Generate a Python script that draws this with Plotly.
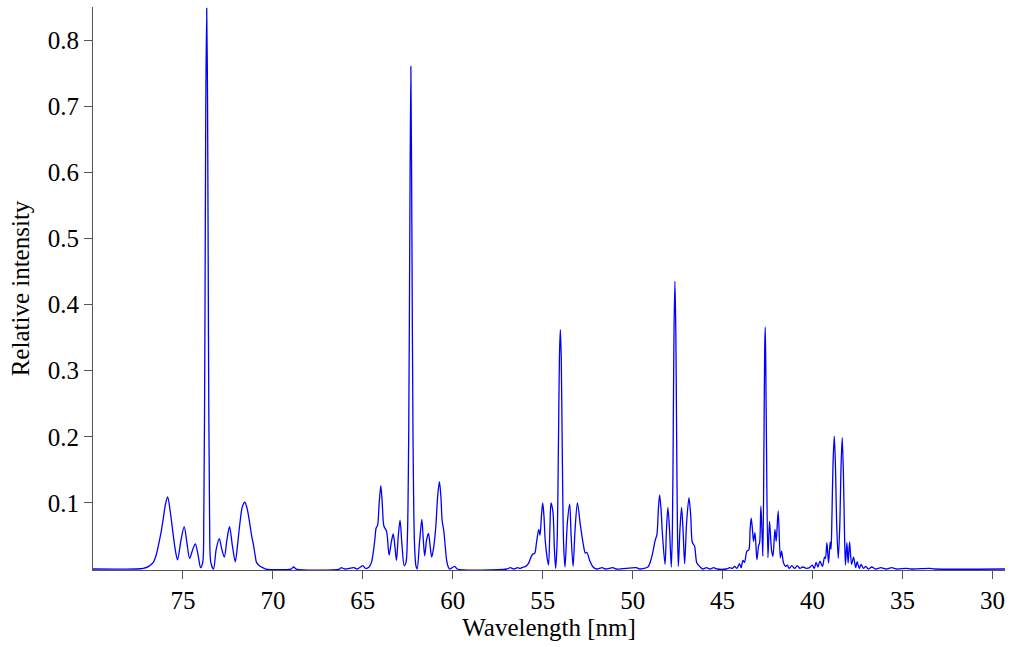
import plotly.graph_objects as go

# wavelength [nm] / relative intensity, group by group
wl_1 = [80.0, 77.6, 77.2, 76.9, 76.65, 76.5, 76.37, 76.22, 76.09, 75.97, 75.85, 75.72, 75.57, 75.42, 75.3,
        75.1, 74.93, 74.78, 74.63, 74.45, 74.31, 74.15, 74.02, 73.9, 73.84, 73.78, 73.73, 73.68, 73.63, 73.58,
        73.52, 73.45, 73.3, 73.15, 72.98, 72.84, 72.7, 72.55, 72.41, 72.25, 72.09, 71.95, 71.83, 71.7, 71.56,
        71.42, 71.28, 71.18, 71.09, 70.98, 70.91, 70.75, 70.63, 70.4]
in_1 = [0.0, 0.0, 0.001, 0.004, 0.01, 0.02, 0.035, 0.055, 0.077, 0.098, 0.109, 0.09, 0.058, 0.028, 0.014,
        0.045, 0.064, 0.04, 0.016, 0.03, 0.038, 0.02, 0.002, 0.01, 0.08, 0.35, 0.7, 0.848, 0.7, 0.35,
        0.08, 0.01, 0.0, 0.03, 0.046, 0.03, 0.018, 0.045, 0.064, 0.035, 0.011, 0.04, 0.07, 0.094, 0.101,
        0.09, 0.068, 0.05, 0.038, 0.02, 0.01, 0.005, 0.003, 0.0]

wl_2 = [69.0, 68.85, 68.7, 66.3, 66.2, 66.0, 65.5, 65.3, 65.0, 64.85, 64.65, 64.52, 64.42, 64.33, 64.26,
        64.18, 64.09, 64.0, 63.92, 63.83, 63.68, 63.54, 63.42, 63.31, 63.22, 63.13, 63.03, 62.93, 62.82, 62.7,
        62.6, 62.52, 62.45, 62.39, 62.33, 62.27, 62.21, 62.13, 62.05, 61.98, 61.85, 61.72, 61.64, 61.56, 61.45,
        61.35, 61.26, 61.17, 61.05, 60.94, 60.84, 60.74, 60.66, 60.59, 60.5, 60.42, 60.35, 60.25, 60.17, 59.89,
        59.75]
in_2 = [0.0, 0.003, 0.0, 0.0, 0.002, 0.0, 0.002, 0.0, 0.005, 0.001, 0.003, 0.01, 0.025, 0.045, 0.062,
        0.066, 0.1, 0.126, 0.1, 0.065, 0.057, 0.021, 0.04, 0.053, 0.035, 0.013, 0.05, 0.074, 0.035, 0.005,
        0.01, 0.05, 0.2, 0.5, 0.76, 0.5, 0.2, 0.04, 0.005, 0.0, 0.04, 0.075, 0.045, 0.02, 0.045,
        0.054, 0.035, 0.018, 0.035, 0.065, 0.11, 0.132, 0.11, 0.073, 0.058, 0.035, 0.015, 0.003, 0.0, 0.004,
        0.0]

wl_3 = [57.0, 56.8, 56.6, 56.4, 56.25, 56.09, 55.95, 55.8, 55.65, 55.57, 55.44, 55.35, 55.22, 55.15, 55.07,
        55.0, 54.93, 54.85, 54.68, 54.6, 54.54, 54.43, 54.35, 54.28, 54.2, 54.12, 54.07, 54.02, 53.97, 53.92,
        53.84, 53.76, 53.63, 53.5, 53.42, 53.31, 53.2, 53.07, 52.9, 52.76, 52.63, 52.54, 52.39, 52.2, 52.0,
        51.7, 51.5, 51.1, 50.9]
in_3 = [0.0, 0.002, 0.0, 0.002, 0.001, 0.003, 0.004, 0.008, 0.018, 0.022, 0.024, 0.039, 0.06, 0.051, 0.08,
        0.1, 0.08, 0.04, 0.006, 0.06, 0.1, 0.086, 0.03, 0.001, 0.04, 0.2, 0.32, 0.362, 0.32, 0.2,
        0.04, 0.003, 0.07, 0.098, 0.05, 0.004, 0.06, 0.1, 0.065, 0.04, 0.024, 0.025, 0.013, 0.003, 0.0,
        0.002, 0.0, 0.002, 0.0]

wl_4 = [49.8, 49.6, 49.15, 49.03, 48.93, 48.74, 48.65, 48.57, 48.5, 48.42, 48.35, 48.2, 48.12, 48.04, 47.95,
        47.85, 47.79, 47.74, 47.7, 47.65, 47.6, 47.56, 47.51, 47.46, 47.37, 47.28, 47.2, 47.11, 47.0, 46.87,
        46.77, 46.68, 46.56, 46.43, 46.24, 46.1, 45.9, 45.7, 45.5, 45.3]
in_4 = [0.002, 0.0, 0.003, 0.01, 0.019, 0.044, 0.052, 0.09, 0.112, 0.09, 0.055, 0.007, 0.06, 0.093, 0.06,
        0.003, 0.06, 0.22, 0.36, 0.435, 0.36, 0.22, 0.06, 0.004, 0.06, 0.093, 0.06, 0.008, 0.07, 0.108,
        0.08, 0.04, 0.035, 0.009, 0.003, 0.0, 0.002, 0.0, 0.002, 0.0]

wl_5 = [44.8, 44.6, 44.45, 44.33, 44.2, 44.06, 43.97, 43.87, 43.78, 43.65, 43.54, 43.47, 43.41, 43.34, 43.28,
        43.2, 43.09, 43.0, 42.94, 42.87, 42.8, 42.76, 42.7, 42.66, 42.63, 42.6, 42.56, 42.48, 42.39, 42.28,
        42.2, 42.09, 42.02, 41.91, 41.79, 41.72, 41.61, 41.5, 41.4, 41.3, 41.15, 41.0, 40.85, 40.7, 40.55,
        40.35, 40.17]
in_5 = [0.0, 0.002, 0.001, 0.004, 0.001, 0.008, 0.002, 0.013, 0.01, 0.027, 0.029, 0.06, 0.077, 0.06, 0.042,
        0.055, 0.014, 0.035, 0.04, 0.095, 0.05, 0.019, 0.19, 0.33, 0.366, 0.31, 0.19, 0.017, 0.072, 0.029,
        0.019, 0.06, 0.042, 0.088, 0.017, 0.027, 0.009, 0.004, 0.006, 0.001, 0.005, 0.001, 0.005, 0.001, 0.003,
        0.001, 0.002]

wl_6 = [40.02, 39.9, 39.8, 39.7, 39.59, 39.45, 39.33, 39.28, 39.2, 39.11, 39.02, 38.97, 38.92, 38.86, 38.79,
        38.72, 38.66, 38.57, 38.48, 38.42, 38.35, 38.28, 38.22, 38.17, 38.09, 38.02, 37.94, 37.83, 37.72, 37.6,
        37.52, 37.4, 37.3, 37.17, 37.04, 36.9, 36.7, 36.5, 36.2, 35.9, 35.6, 35.3, 34.8, 34.5, 33.5,
        33.2, 29.3]
in_6 = [0.006, 0.001, 0.01, 0.003, 0.012, 0.004, 0.018, 0.016, 0.04, 0.009, 0.041, 0.03, 0.08, 0.16, 0.201,
        0.15, 0.07, 0.016, 0.07, 0.15, 0.199, 0.14, 0.05, 0.006, 0.04, 0.009, 0.041, 0.007, 0.018, 0.002,
        0.011, 0.001, 0.007, 0.001, 0.004, 0.0, 0.003, 0.0, 0.002, 0.0, 0.002, 0.0, 0.001, 0.0, 0.001,
        0.0, 0.0]

x_ticks = [75, 70, 65, 60, 55, 50, 45, 40, 35, 30]
y_ticks = [0.1, 0.2, 0.3, 0.4, 0.5, 0.6, 0.7, 0.8]

wavelength = wl_1 + wl_2 + wl_3 + wl_4 + wl_5 + wl_6
intensity = in_1 + in_2 + in_3 + in_4 + in_5 + in_6

fig = go.Figure(go.Scatter(
    x = wavelength,
    y = intensity,
    mode = 'lines',
    line = dict(color = '#0000ff', width = 1.3, shape = 'spline', smoothing = 0.8),
    showlegend = False
))

font = dict(family = 'Liberation Serif, Times New Roman, serif', size = 25, color = 'black')
axis = dict(
    showgrid = False, zeroline = False, showline = True, linecolor = '#555', linewidth = 1.2,
    ticks = 'outside', ticklen = 8, tickcolor = '#555', tickwidth = 1.2,
    tickfont = font, layer = 'below traces'
)

fig.update_xaxes(axis, range = [80, 29.3], tickvals = x_ticks,
                 title = dict(text = 'Wavelength [nm]', font = font, standoff = 0))
fig.update_yaxes(axis, range = [-0.0015, 0.85], tickvals = y_ticks,
                 title = dict(text = 'Relative intensity', font = font, standoff = 10))

fig.update_layout(
    width = 1010, height = 647,
    margin = dict(l = 93, r = 5, t = 7, b = 77, autoexpand = False),
    paper_bgcolor = 'white', plot_bgcolor = 'white',
    font = font
)

fig.write_html('out.html', config = {'displayModeBar': False},
               post_script = "document.body.style.margin = '0';")
